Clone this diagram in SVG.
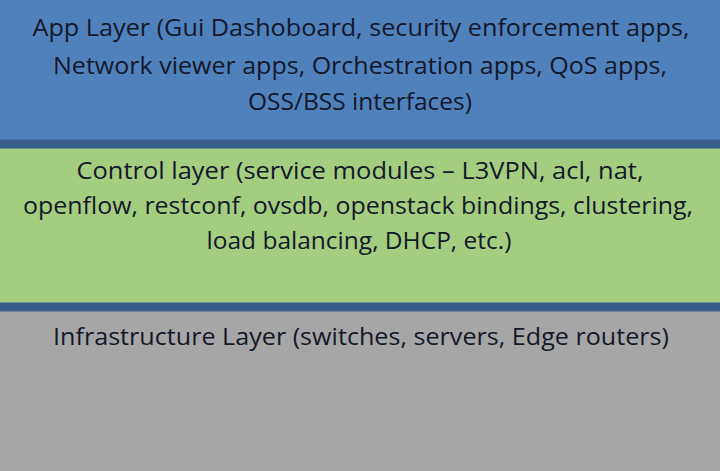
<svg xmlns="http://www.w3.org/2000/svg" width="720" height="471" viewBox="0 0 720 471">
<style>
text{font-family:"Open Sans","Liberation Sans",sans-serif;font-size:23px;fill:#14182a;text-anchor:middle}
.b{stroke:#385d8a;stroke-width:5}
</style>
<g id="app">
<rect class="b" x="-3" y="-3" width="726" height="145" fill="#4f81bd"/>
<text x="361" y="36" textLength="657" lengthAdjust="spacingAndGlyphs">App Layer (Gui Dashoboard, security enforcement apps,</text>
<text x="360" y="74" textLength="614" lengthAdjust="spacingAndGlyphs">Network viewer apps, Orchestration apps, QoS apps,</text>
<text x="360" y="110" textLength="224" lengthAdjust="spacingAndGlyphs">OSS/BSS interfaces)</text>
</g>
<g id="control">
<rect class="b" x="-3" y="146" width="726" height="159" fill="#a4cd80"/>
<text x="360" y="179" textLength="567" lengthAdjust="spacingAndGlyphs">Control layer (service modules – L3VPN, acl, nat,</text>
<text x="358" y="214" textLength="670" lengthAdjust="spacingAndGlyphs">openflow, restconf, ovsdb, openstack bindings, clustering,</text>
<text x="359" y="249" textLength="305" lengthAdjust="spacingAndGlyphs">load balancing, DHCP, etc.)</text>
</g>
<g id="infra">
<rect class="b" x="-3" y="309" width="726" height="170" fill="#a6a6a6"/>
<text x="361" y="345" textLength="616" lengthAdjust="spacingAndGlyphs">Infrastructure Layer (switches, servers, Edge routers)</text>
</g>
<g id="connectors"/>
</svg>
